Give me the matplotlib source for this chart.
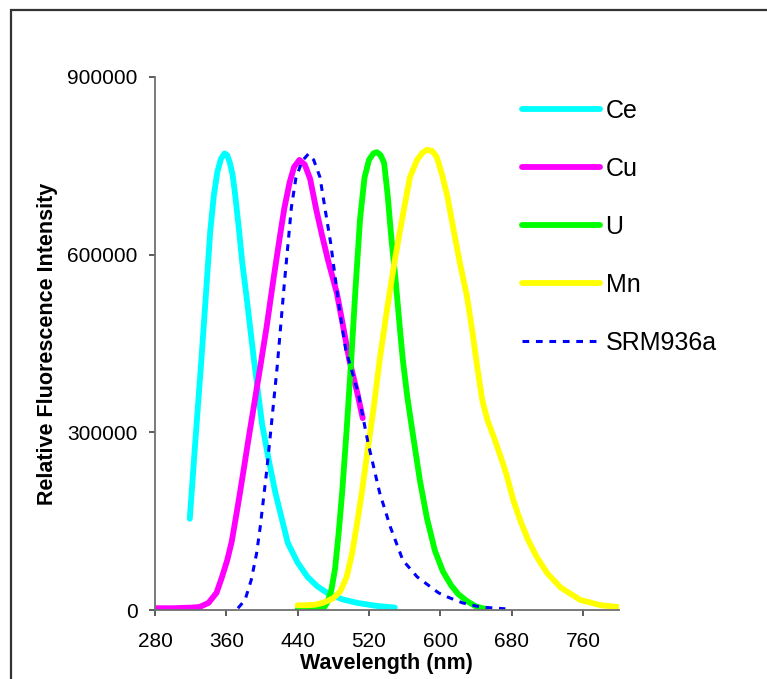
import matplotlib
matplotlib.use("Agg")
import matplotlib.pyplot as plt
from matplotlib.patches import Rectangle

plt.rcParams['font.family'] = ['Liberation Sans', 'DejaVu Sans']

# emission spectra (nm, relative intensity)
ce_nm = [319, 325, 332, 337, 342, 346, 350, 354, 358, 361, 364, 367, 370, 374, 378, 383,
         391, 400, 408, 415, 429, 440, 451, 462, 473, 490, 507, 528, 549]
ce_int = [154000, 280000, 422000, 530000, 640000, 700000, 740000, 762000, 771000, 768000,
          755000, 735000, 700000, 645000, 585000, 525000, 422000, 315000, 250000, 198000,
          113000, 80000, 56000, 40000, 29000, 18000, 12000, 7000, 4000]

cu_nm = [280, 300, 320, 330, 340, 349, 355, 361, 366, 370, 375, 380, 385, 390, 398, 405,
         413, 420, 425, 431, 436, 442, 448, 454, 461, 467, 474, 484, 491, 498, 507, 513]
cu_int = [3000, 3000, 4000, 5000, 12000, 29000, 55000, 84000, 115000, 150000, 195000,
          242000, 290000, 336000, 410000, 476000, 560000, 630000, 678000, 722000, 748000,
          760000, 752000, 728000, 675000, 635000, 591000, 535000, 479000, 422000, 366000,
          324000]

u_nm = [440, 455, 465, 470, 474, 478, 482, 486, 490, 495, 500, 505, 510, 515, 520, 525,
        529, 533, 537, 541, 545, 550, 555, 558, 563, 568, 577, 585, 594, 603, 612, 620,
        630, 640, 650]
u_int = [1000, 1000, 2000, 5000, 15000, 35000, 70000, 130000, 200000, 305000, 420000,
         545000, 660000, 730000, 760000, 771000, 773000, 768000, 755000, 700000, 630000,
         555000, 470000, 422000, 360000, 309000, 220000, 155000, 100000, 65000, 42000,
         27000, 15000, 6000, 2000]

mn_nm = [440, 450, 460, 468, 473, 480, 488, 495, 501, 506, 512, 518, 525, 532, 540, 549,
         559, 566, 574, 580, 585, 591, 596, 602, 608, 615, 622, 630, 636, 641, 647, 653,
         660, 667, 674, 682, 690, 698, 708, 720, 735, 757, 780, 800]
mn_int = [8000, 8000, 9000, 12000, 15000, 20000, 32000, 56000, 95000, 140000, 198000,
          265000, 338000, 422000, 505000, 591000, 675000, 731000, 760000, 772000, 777000,
          775000, 765000, 735000, 698000, 641000, 586000, 529000, 470000, 415000, 355000,
          320000, 292000, 262000, 230000, 185000, 150000, 120000, 90000, 62000, 38000,
          17000, 8000, 5000]

srm_nm = [373, 381, 388, 394, 398, 405, 409, 413, 417, 421, 425, 429, 433, 438, 445, 452,
          458, 465, 471, 477, 482, 487, 494, 508, 519, 532, 544, 558, 574, 598, 608, 625,
          645, 673]
srm_int = [3000, 17000, 51000, 96000, 140000, 231000, 290000, 350000, 410000, 480000,
           550000, 615000, 680000, 729000, 758000, 770000, 760000, 731000, 675000, 620000,
           563000, 507000, 439000, 366000, 282000, 198000, 140000, 84000, 56000, 29000,
           22000, 12000, 5000, 2000]

x_ticks = [280, 360, 440, 520, 600, 680, 760]
y_ticks = [0, 300000, 600000, 900000]

W, H = 767, 679
fig = plt.figure(figsize=(W / 100, H / 100), dpi=100)
ax = fig.add_axes([155 / W, 1 - 610 / H, (618.6 - 155) / W, (610 - 77) / H])

lw = 4.2
style = dict(lw=lw, solid_capstyle='round', solid_joinstyle='round')
ax.plot(ce_nm, ce_int, color='#00FFFF', label='Ce', **style)
ax.plot(cu_nm, cu_int, color='#FF00FF', label='Cu', **style)
ax.plot(u_nm, u_int, color='#00FF00', label='U', **style)
ax.plot(mn_nm, mn_int, color='#FFFF00', label='Mn', **style)
ax.plot(srm_nm, srm_int, color='#0000FF', lw=2.2, dashes=(2.2, 2.2), label='SRM936a')

ax.set_xlim(280, 800)
ax.set_ylim(0, 900000)
ax.set_xticks(x_ticks)
ax.set_yticks(y_ticks)
ax.set_yticklabels([str(v) for v in y_ticks])
for s in ['top', 'right']:
    ax.spines[s].set_visible(False)
for s in ['left', 'bottom']:
    ax.spines[s].set_color('#707070')
    ax.spines[s].set_linewidth(1.3)
ax.tick_params(axis='y', length=4.5, width=1.1, color='#303030', pad=8, labelsize=15)
ax.tick_params(axis='x', length=4.5, width=1.1, color='#303030', pad=11, labelsize=15)

ax.set_xlabel('Wavelength (nm)', fontsize=15.5, fontweight='bold', labelpad=2)
ax.set_ylabel('Relative Fluorescence Intensity', fontsize=15.5, fontweight='bold', labelpad=7)

fig.legend(loc='center left', bbox_to_anchor=(522 / W, 1 - 227 / H), frameon=False,
           fontsize=18, handlelength=3.1, handletextpad=0.24, labelspacing=1.36,
           borderpad=0, borderaxespad=0)

# outer chart frame (runs off the right and bottom edge)
fig.patches.append(Rectangle((10.5 / W, -0.1), 1.2, 1.1 - 10.5 / H, transform=fig.transFigure,
                             fill=False, edgecolor='#333333', linewidth=1.6, clip_on=False))

fig.savefig('out.png', dpi=100)
